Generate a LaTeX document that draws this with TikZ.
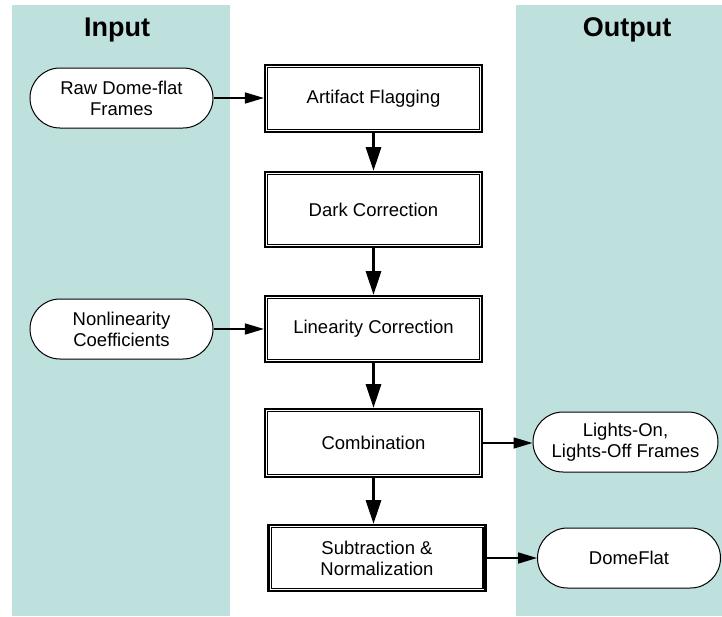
\documentclass[tikz,border=0pt]{standalone}
\usepackage{fontspec}
\setmainfont{Liberation Sans}
\usetikzlibrary{arrows.meta}
\definecolor{panel}{RGB}{191,225,222}
\tikzset{
  stepbox/.style={draw, line width=2.2pt, minimum width=217pt, inner sep=0pt, align=center, font=\fontsize{18.5}{21}\selectfont, fill=white},
  term/.style={draw, line width=1pt, rounded corners=30pt, minimum height=60pt, inner sep=0pt, align=center, font=\fontsize{18.5}{21}\selectfont, fill=white},
  flow/.style={line width=3.2pt, -{Triangle[length=24pt,width=15pt]}},
  side/.style={line width=1.6pt, -{Triangle[length=19pt,width=11pt]}},
  title/.style={font=\fontsize{27}{30}\selectfont\bfseries, anchor=base},
  panelfill/.style={fill=panel, draw=none}
}
\begin{document}
\begin{tikzpicture}[x=1pt,y=-1pt]
\useasboundingbox (0,0) rectangle (722,616);
\fill[white] (0,0) rectangle (722,616);
\path[panelfill] (12,5) rectangle (230,616);
\path[panelfill] (516,5) rectangle (722,616);
\node[title] (tin) at (117,36) {Input};
\node[title] (tout) at (627,36) {Output};

\node[stepbox, minimum height=66.8pt] (af) at (373.5,98.5) {Artifact Flagging};
\node[stepbox, minimum height=74.8pt] (dc) at (373.5,209.5) {Dark Correction};
\node[stepbox, minimum height=65.8pt] (lc) at (373.5,329) {Linearity Correction};
\node[stepbox, minimum height=67.8pt] (cb) at (373.5,443) {Combination};
\node[stepbox, minimum height=65.8pt] (sn) at (377,558) {Subtraction \&\\Normalization};

\foreach \n in {af,dc,lc,cb,sn}{
  \draw[line width=1.2pt] ([shift={(3.7pt,-3.7pt)}]\n.north west) rectangle ([shift={(-3.7pt,3.7pt)}]\n.south east);
}

\node[term, minimum width=183pt] (raw) at (121.5,98) {Raw Dome-flat\\Frames};
\node[term, minimum width=183pt] (nl) at (121.5,329) {Nonlinearity\\Coefficients};
\node[term, minimum width=185pt] (lo) at (625.5,442) {Lights-On,\\Lights-Off Frames};
\node[term, minimum width=183pt] (df) at (629,558) {DomeFlat};

\draw[flow] (af.south) -- (dc.north);
\draw[flow] (dc.south) -- (lc.north);
\draw[flow] (lc.south) -- (cb.north);
\draw[flow] (cb.south) -- (cb.south |- sn.north);

\draw[side] (raw.east) -- (raw.east -| af.west);
\draw[side] (nl.east) -- (nl.east -| lc.west);
\draw[side] (cb.east) -- (cb.east -| lo.west);
\draw[side] (sn.east) -- (sn.east -| df.west);
\end{tikzpicture}
\end{document}
